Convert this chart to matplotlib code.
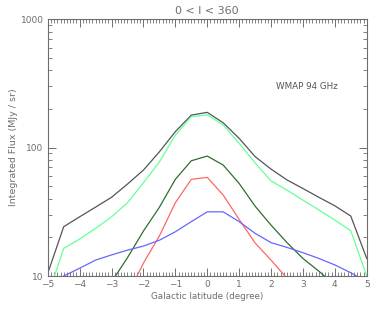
import matplotlib
matplotlib.use("Agg")
import matplotlib.pyplot as plt
from matplotlib.ticker import MultipleLocator, LogLocator, NullFormatter, FixedLocator

# Galactic latitude grid (degree)
lat = [-5, -4.5, -4, -3.5, -3, -2.5, -2, -1.5, -1, -0.5, 0,
       0.5, 1, 1.5, 2, 2.5, 3, 3.5, 4, 4.5, 5]

# Integrated flux (MJy / sr)
flux_black = [10.5, 24.2, 28.9, 34.4, 41, 52, 66.8, 92.7, 133, 179, 188,
              156, 118, 85, 68, 56, 48, 41, 35.2, 29.3, 13.7]
flux_lgreen = [7, 16.4, 19.4, 23.5, 28.9, 37.2, 53.2, 77.4, 125, 174, 180,
               150, 108, 76, 55, 46.7, 39, 32.7, 27.3, 22.5, 10]
flux_dgreen = [4, 5.5, 7, 8, 9, 13.9, 22.4, 34.3, 56.6, 78.9, 85.9,
               73.1, 52.6, 35, 24.9, 18.2, 13.7, 10.9, 8.5, 6.5, 5]
flux_red = [3, 4, 5, 6, 6.5, 7.1, 12.6, 20.5, 37.2, 56.6, 58.6,
            42.7, 27.6, 18.1, 13.3, 9.6, 7, 6, 5, 4, 3]
flux_blue = [8.5, 10, 11.5, 13.3, 14.6, 15.9, 17.1, 19.0, 22.1, 26.5, 31.6,
             31.6, 26.5, 21.5, 18.2, 16.7, 15.2, 13.7, 12.2, 10.6, 9]

gray = "#6e6e6e"

fig = plt.figure(figsize=(3.82, 3.11), dpi=100)
ax = fig.add_axes([0.125, 0.1125, 0.835, 0.826])

lw = 0.9
ax.plot(lat, flux_black, color="#555555", lw=lw)
ax.plot(lat, flux_lgreen, color="#66ff99", lw=lw)
ax.plot(lat, flux_dgreen, color="#2e6e2e", lw=lw)
ax.plot(lat, flux_red, color="#ff6666", lw=lw)
ax.plot(lat, flux_blue, color="#6666ff", lw=lw)

ax.set_yscale("log")
ax.set_xlim(-5, 5)
ax.set_ylim(10, 1000)

ax.xaxis.set_major_locator(MultipleLocator(1))
ax.xaxis.set_minor_locator(MultipleLocator(0.1))
ax.yaxis.set_major_locator(FixedLocator([10, 100, 1000]))
ax.yaxis.set_minor_locator(LogLocator(base=10, subs=range(2, 10)))
ax.yaxis.set_minor_formatter(NullFormatter())
ax.set_yticklabels(["10", "100", "1000"])

ax.tick_params(which="both", direction="in", top=True, right=True,
               color=gray, labelcolor=gray, labelsize=6.5, pad=3)
ax.tick_params(which="major", length=6, width=0.7)
ax.tick_params(which="minor", length=3, width=0.6)
for s in ax.spines.values():
    s.set_color(gray)
    s.set_linewidth(0.8)

ax.set_title("0 < l < 360", color=gray, fontsize=8, pad=4)
ax.set_xlabel("Galactic latitude (degree)", color=gray, fontsize=6.3, labelpad=2)
ax.set_ylabel("Integrated Flux (MJy / sr)", color=gray, fontsize=6.8, labelpad=2)
ax.text(2.16, 300, "WMAP 94 GHz", color="#555555", fontsize=6.3, va="center")

fig.savefig("out.png", dpi=100)
